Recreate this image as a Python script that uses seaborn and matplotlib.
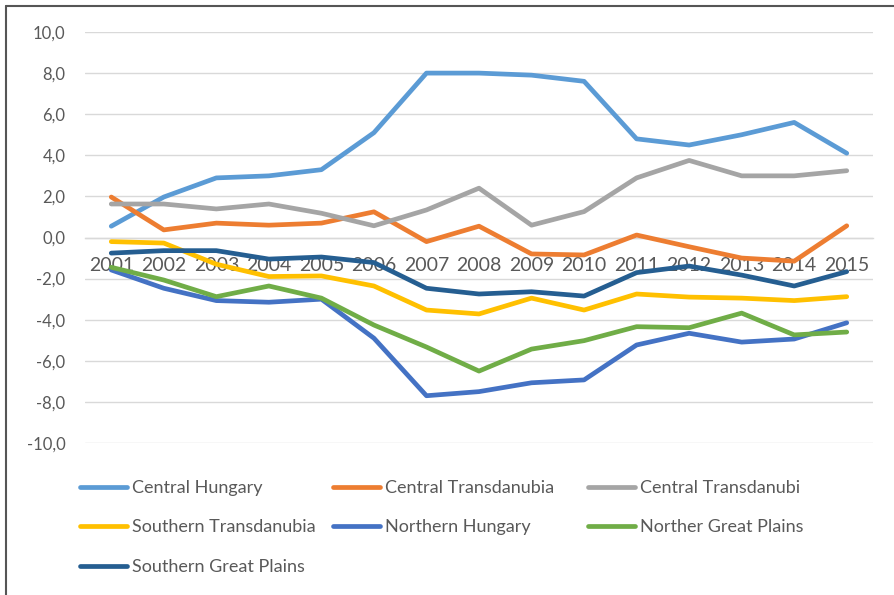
import matplotlib
matplotlib.use("Agg")
import matplotlib.pyplot as plt
from matplotlib.lines import Line2D
from matplotlib.ticker import FuncFormatter, MultipleLocator
import seaborn as sns
import pandas as pd

years = list(range(2001, 2016))

central_hungary = [0.55, 1.97, 2.9, 3.0, 3.3, 5.1, 8.0, 8.0, 7.9, 7.6, 4.8, 4.5, 5.0, 5.6, 4.1]
central_transdanubia = [1.97, 0.37, 0.7, 0.6, 0.7, 1.25, -0.2, 0.55, -0.8, -0.85, 0.12, -0.45, -1.0, -1.15, 0.57]
central_transdanubi = [1.63, 1.63, 1.39, 1.63, 1.18, 0.57, 1.34, 2.4, 0.6, 1.26, 2.9, 3.75, 3.0, 3.0, 3.25]
southern_transdanubia = [-0.2, -0.27, -1.3, -1.9, -1.87, -2.36, -3.53, -3.72, -2.95, -3.53, -2.75, -2.9, -2.95, -3.07, -2.88]
northern_hungary = [-1.58, -2.47, -3.07, -3.15, -3.0, -4.9, -7.7, -7.5, -7.07, -6.93, -5.23, -4.66, -5.09, -4.94, -4.15]
norther_great_plains = [-1.45, -2.07, -2.88, -2.36, -2.95, -4.26, -5.33, -6.5, -5.43, -5.02, -4.34, -4.39, -3.68, -4.74, -4.6]
southern_great_plains = [-0.76, -0.64, -0.64, -1.05, -0.95, -1.22, -2.47, -2.75, -2.64, -2.85, -1.71, -1.39, -1.83, -2.36, -1.66]

series_names = ["Central Hungary", "Central Transdanubia", "Central Transdanubi",
                "Southern Transdanubia", "Northern Hungary", "Norther Great Plains",
                "Southern Great Plains"]
series_values = [central_hungary, central_transdanubia, central_transdanubi,
                 southern_transdanubia, northern_hungary, norther_great_plains,
                 southern_great_plains]
colors = ["#5B9BD5", "#ED7D31", "#A5A5A5", "#FFC000", "#4472C4", "#70AD47", "#255E91"]

rows = []
for name, vals in zip(series_names, series_values):
    for y, v in zip(years, vals):
        rows.append({"year": y, "value": v, "series": name})
df = pd.DataFrame(rows)

sns.set_theme(style="white")
plt.rcParams["font.family"] = ["Lato", "DejaVu Sans"]

W, H = 894, 595
fig = plt.figure(figsize=(W / 100, H / 100), dpi=100)
ax = fig.add_axes([85 / W, 1 - 443 / H, (873 - 85) / W, (443 - 32) / H])

sns.lineplot(data=df, x="year", y="value", hue="series", hue_order=series_names,
             palette=colors, linewidth=3.4, ax=ax, legend=False, sort=False)

ax.set_xlim(2000.5, 2015.5)
ax.set_ylim(-10, 10)
ax.yaxis.set_major_locator(MultipleLocator(2))
ax.yaxis.set_major_formatter(FuncFormatter(lambda v, p: f"{v:.1f}".replace(".", ",")))
ax.set_xticks(years)
ax.set_xticklabels([str(y) for y in years])
ax.set_xlabel("")
ax.set_ylabel("")
ax.grid(axis="y", color="#D9D9D9", linewidth=1.0)
ax.grid(axis="x", visible=False)
ax.set_axisbelow(True)
for s in ["top", "right", "left"]:
    ax.spines[s].set_visible(False)
ax.spines["bottom"].set_position(("data", 0))
ax.spines["bottom"].set_color("#D9D9D9")
ax.spines["bottom"].set_linewidth(1.0)
ax.spines["bottom"].set_zorder(0.5)
ax.tick_params(axis="x", length=0, pad=14, labelsize=14, labelcolor="#595959")
ax.tick_params(axis="y", length=0, pad=14, labelsize=12, labelcolor="#595959")

# legend in three fixed columns
handles = {n: Line2D([], [], color=c, linewidth=3.4, solid_capstyle="round")
           for n, c in zip(series_names, colors)}
cols = [(80, ["Central Hungary", "Southern Transdanubia", "Southern Great Plains"]),
        (333, ["Central Transdanubia", "Northern Hungary"]),
        (588, ["Central Transdanubi", "Norther Great Plains"])]
for x0, names in cols:
    leg = fig.legend([handles[n] for n in names], names, loc="upper left",
                     bbox_to_anchor=(x0 / W, 1 - 480 / H), frameon=False,
                     fontsize=13, handlelength=2.6, handletextpad=0.3,
                     labelspacing=1.3, borderpad=0, borderaxespad=0,
                     labelcolor="#595959")

# frame lines (top and left)
fig.add_artist(Line2D([6 / W, 1], [1 - 6 / H, 1 - 6 / H], color="#555555", linewidth=1.5))
fig.add_artist(Line2D([6 / W, 6 / W], [0, 1 - 6 / H], color="#555555", linewidth=1.5))

fig.savefig("out.png", dpi=100)
